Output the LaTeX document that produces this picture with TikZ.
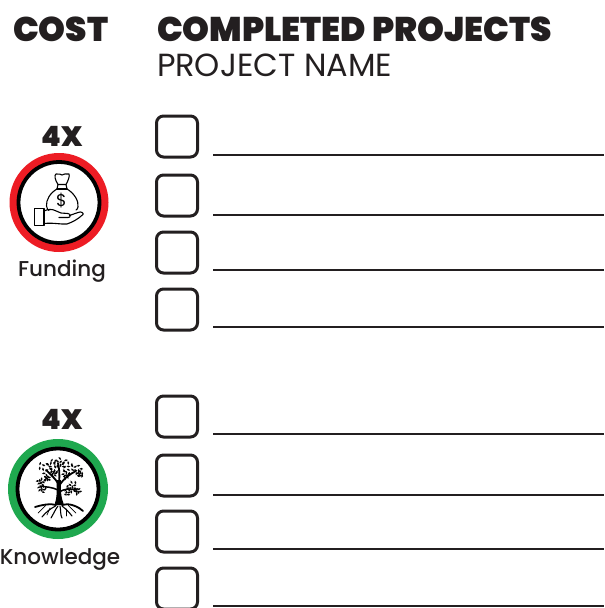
\documentclass[tikz,border=0pt]{standalone}
\usepackage{fontspec}
\setmainfont{Poppins}
\newfontfamily\heavy{Poppins}[UprightFont=* Black,BoldFont=* Black]
\newfontfamily\medium{Poppins}[UprightFont=* Medium,BoldFont=* Medium]
\definecolor{ink}{HTML}{231F20}
\definecolor{ringred}{HTML}{ED1C24}
\definecolor{ringgreen}{HTML}{1FA84F}
\tikzset{
  txt/.style={inner sep=0pt,outer sep=0pt,anchor=base west,text=ink},
  ctxt/.style={inner sep=0pt,outer sep=0pt,anchor=base,text=ink},
  title/.style={txt,font=\heavy\fontsize{34.2}{36}\selectfont},
  costnum/.style={ctxt,font=\heavy\fontsize{28}{30}\selectfont},
  sub/.style={txt,font=\fontsize{32}{34}\selectfont},
  lab/.style={ctxt,font=\medium\fontsize{21.5}{24}\selectfont},
  box/.style={draw=ink,line width=3pt,rounded corners=7pt,fill=white},
  rule/.style={draw=ink,line width=1.5pt},
  icon/.style={draw=black,line width=1.1pt,line join=round,line cap=round,fill=none},
  leaf/.style={fill=black,draw=none},
  root/.style={draw=black,line cap=round,fill=none}
}
\begin{document}
\begin{tikzpicture}[x=1pt,y=-1pt]
\useasboundingbox (0,0) rectangle (605,608);
\fill[white] (0,0) rectangle (605,608);
\node[title] (cost) at (13,41) {COST};
\node[title] (completed) at (157,41) {COMPLETED PROJECTS};
\node[sub] (pname) at (157,76) {PROJECT NAME};
\node[costnum] (fourA) at (62,146) {4X};
\node[costnum] (fourB) at (62,429) {4X};
\node[lab] (funding) at (62,276) {Funding};
\node[lab] (knowledge) at (60,564) {Knowledge};
% rows
\foreach \bt/\ly in {116/155,175/215,232/270,289/327,396/434,455/495,511/549,568/606}{
  \draw[box] (156.5,\bt) rectangle +(41,41);
  \draw[rule] (213,\ly) -- (604,\ly);
}
% rings
\fill[ringred] (59,202.5) circle (49.5);
\draw[black,line width=3.8pt,fill=white] (59,202.5) circle (40.5);
\fill[ringgreen] (58,489) circle (50);
\draw[black,line width=3.8pt,fill=white] (58,489) circle (40.5);
% money bag
\draw[icon] (58,184.5) .. controls (55,180) and (54,175) .. (56,174)
  .. controls (59,173) and (61,175) .. (62,175) .. controls (64,175) and (66,172.5) .. (69,174)
  .. controls (70,176) and (68,181) .. (66,184.5) -- cycle;
\draw[icon] (58,184.5) .. controls (58,186) and (57.5,187) .. (57,189) (66,184.5) .. controls (66,186) and (66.5,187) .. (67,189);
\draw[icon] (57,189) -- (67,189);
\draw[icon] (57,189) .. controls (50,193) and (46,200) .. (46.5,206) .. controls (47,209) and (48,210) .. (49,210.5);
\draw[icon] (67,189) .. controls (74,193) and (79,201) .. (78,207) .. controls (77.5,209) and (77,209.5) .. (76,210);
\node[inner sep=0pt,font=\fontsize{17}{17}\selectfont] (dollar) at (61.5,200.5) {\$};
% hand
\draw[icon] (34.5,208.5) rectangle (44,225.5);
\draw[icon] (44,211) .. controls (48,209) and (52,209) .. (55,210.5) -- (61,213) -- (68,213.5)
  .. controls (71,214) and (71,217.5) .. (68,217.5) -- (59,217.5);
\draw[icon] (69.5,215.5) -- (78,212.5) .. controls (81,211) and (84,213) .. (83,214.5)
  .. controls (78,219) and (73,222) .. (67,224) .. controls (60,224.5) and (54,222.5) .. (44,223.5);
% tree trunk and branches
\fill[black] (54.5,505) .. controls (57,498) and (57,490) .. (56.5,480) -- (61,480) .. controls (60.5,490) and (61,498) .. (64,505) -- cycle;
\draw[root,line width=1.8pt] (58.5,484) .. controls (55,478) and (50,474) .. (46,470);
\draw[root,line width=1.8pt] (59,482) .. controls (60,474) and (59,468) .. (58,463);
\draw[root,line width=1.8pt] (59,486) .. controls (64,478) and (70,474) .. (76,471);
\draw[root,line width=1.5pt] (58,490) .. controls (52,487) and (46,487) .. (40,486);
\draw[root,line width=1.5pt] (59,492) .. controls (64,489) and (70,488) .. (76,490);
% leaves
\foreach \cx/\cy/\r in {44/468/6.5,52/464/5.5,60/463/5.5,67/466/6,76/469/5.5,80/474/3,41/482/4,42/489/4,47/478/3,66/475/4,72/486/5,68/492/4,77/491/3.5,54/473/3.5}{
  \foreach \k in {0,...,7}{
    \pgfmathsetmacro{\ang}{\k*137.5+\cx*11}
    \pgfmathsetmacro{\rad}{\r*sqrt((\k+0.5)/8)}
    \fill[leaf,shift={(\cx,\cy)},shift={(\ang:\rad)},rotate=\ang*1.7]
      (0,0) ellipse (1.9 and 0.95);
  }
}
% roots
\draw[root,line width=1.8pt] (56,505) .. controls (50,503) and (42,505) .. (35,507);
\draw[root,line width=1.8pt] (62,505) .. controls (68,503) and (76,505) .. (83,511);
\draw[root,line width=1.1pt] (55.5,506) .. controls (50,509) and (46,512) .. (42,517);
\draw[root,line width=1.1pt] (58,506) .. controls (55,510) and (54,513) .. (51,518);
\draw[root,line width=1.1pt] (60,506) .. controls (61,510) and (60,514) .. (62,518);
\draw[root,line width=1.1pt] (62,506) .. controls (66,509) and (69,512) .. (72,516);
\draw[root,line width=.7pt] (46,505) -- (38,513);
\draw[root,line width=.7pt] (50,508) -- (47,515);
\draw[root,line width=.7pt] (68,505) -- (76,513);
\draw[root,line width=.7pt] (66,509) -- (66,516);
\draw[root,line width=.7pt] (72,505) -- (80,508);
\end{tikzpicture}
\end{document}
